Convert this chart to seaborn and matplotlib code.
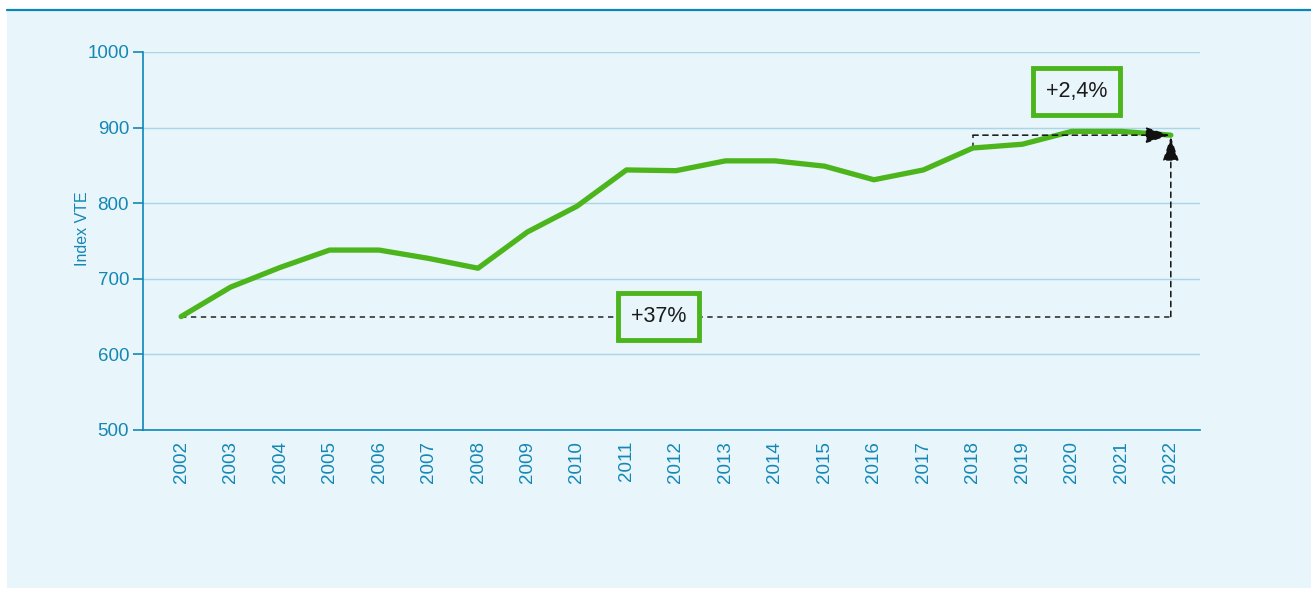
import numpy as np
import pandas as pd
import matplotlib
matplotlib.use("Agg")
import matplotlib.pyplot as plt
from matplotlib.patches import Rectangle
import seaborn as sns

years = list(range(2002, 2023))
index_vte = [650, 689, 715, 738, 738, 727, 714, 762, 796, 844, 843,
             856, 856, 849, 831, 844, 873, 878, 895, 895, 890]
y_ticks = [500, 600, 700, 800, 900, 1000]
label_total = "+37%"
label_recent = "+2,4%"

df = pd.DataFrame({"year": years, "index": index_vte})

sns.set_style("white")
plt.rcParams["font.family"] = ["Liberation Sans", "DejaVu Sans"]

blue = "#1487b5"
grid_blue = "#a9d5e8"
green = "#4bb51b"
panel = "#e8f5fa"

fig = plt.figure(figsize=(13.11, 5.89), dpi=100)
fig.patch.set_facecolor("white")
# panel background and top rule
fig.add_artist(Rectangle((7/1311, 1/589), 1 - 7/1311, 1 - 11/589,
                         transform=fig.transFigure, facecolor=panel,
                         edgecolor="none", zorder=0))
fig.add_artist(plt.Line2D([7/1311, 1], [1 - 10/589, 1 - 10/589],
                          transform=fig.transFigure, color="#0a86b8", lw=1.6))

ax = fig.add_axes([143/1311, 1 - 430/589, (1200 - 143)/1311, (430 - 52)/589])
ax.set_facecolor("none")

sns.lineplot(data=df, x="year", y="index", color=green, linewidth=3.8,
             ax=ax, zorder=3, solid_capstyle="round")

ax.set_xlim(2001.23, 2022.59)
ax.set_ylim(500, 1000)
ax.set_yticks(y_ticks)
ax.set_xticks(years)
ax.set_xticklabels([str(y) for y in years], rotation=90)
ax.yaxis.grid(True, color=grid_blue, lw=1)
ax.set_axisbelow(True)

for s in ["top", "right"]:
    ax.spines[s].set_visible(False)
for s in ["left", "bottom"]:
    ax.spines[s].set_color("#0a86b8")
    ax.spines[s].set_linewidth(1.2)

ax.tick_params(axis="y", colors=blue, labelsize=13.5, length=7, width=1.2,
               direction="out", pad=3, left=True)
ax.tick_params(axis="x", colors=blue, labelsize=13.5, length=0, pad=8)
ax.set_xlabel("")
ax.set_ylabel("Index VTE", color=blue, fontsize=11.5)
ax.yaxis.set_label_coords(-0.050, 0.532)

dash = (0, (3.5, 3))
arrow = "-|>,head_width=0.5,head_length=1.5"

# +37% annotation
first, last = index_vte[0], index_vte[-1]
ax.plot([years[0], years[-1]], [first, first], ls=dash, color="#222222",
        lw=1.1, zorder=2)
ax.annotate("", xy=(years[-1], last - 2), xytext=(years[-1], first),
            arrowprops=dict(arrowstyle=arrow, color="#111111", lw=1.1,
                            ls=dash, shrinkA=0, shrinkB=0), zorder=4)
ax.text(2011.65, first, label_total, ha="center", va="center", fontsize=15.5,
        color="#1a1a1a", zorder=5,
        bbox=dict(boxstyle="square,pad=0.6", fc=panel, ec=green, lw=3.5))

# +2,4% annotation
y18 = index_vte[years.index(2018)]
ax.plot([2018, 2018], [y18, last], ls=dash, color="#222222", lw=1.1,
        zorder=2)
ax.annotate("", xy=(years[-1] - 0.02, last), xytext=(2018, last),
            arrowprops=dict(arrowstyle=arrow, color="#111111", lw=1.1,
                            ls=dash, shrinkA=0, shrinkB=0), zorder=4)
ax.text(2020.1, 948, label_recent, ha="center", va="center", fontsize=15.5,
        color="#1a1a1a", zorder=5,
        bbox=dict(boxstyle="square,pad=0.6", fc=panel, ec=green, lw=3.5))

fig.savefig("out.png", dpi=100)
